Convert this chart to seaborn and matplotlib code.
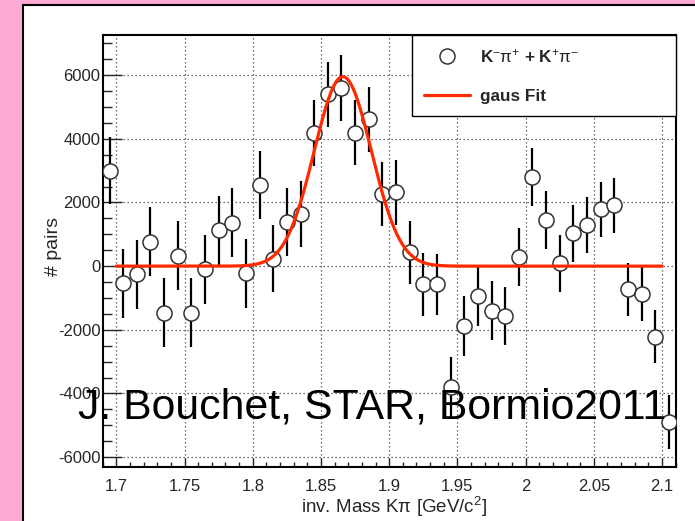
import numpy as np
import pandas as pd
import matplotlib
matplotlib.use("Agg")
import matplotlib.pyplot as plt
from matplotlib.lines import Line2D
from matplotlib.patches import Rectangle
from matplotlib.ticker import MultipleLocator
import seaborn as sns

# K pi invariant-mass bins (bin centres, GeV/c^2)
mass = [1.695, 1.705, 1.715, 1.725, 1.735, 1.745, 1.755, 1.765, 1.775, 1.785,
        1.795, 1.805, 1.815, 1.825, 1.835, 1.845, 1.855, 1.865, 1.875, 1.885,
        1.895, 1.905, 1.915, 1.925, 1.935, 1.945, 1.955, 1.965, 1.975, 1.985,
        1.995, 2.005, 2.015, 2.025, 2.035, 2.045, 2.055, 2.065, 2.075, 2.085,
        2.095, 2.105]
# background-subtracted pair counts
pairs = [3000, -545, -250, 765, -1460, 325, -1460, -105, 1125, 1370,
         -230, 2555, 230, 1390, 1635, 4170, 5400, 5590, 4190, 4610,
         2255, 2315, 430, -575, -575, -3790, -1875, -945, -1405, -1570,
         290, 2800, 1445, 85, 1025, 1290, 1780, 1915, -730, -860,
         -2220, -4890]
# statistical errors
pair_err = [1060, 1075, 1085, 1085, 1075, 1080, 1075, 1075, 1075, 1075,
            1075, 1075, 1050, 1060, 1040, 1040, 1020, 1030, 1020, 1010,
            1005, 1010, 985, 995, 965, 950, 940, 925, 930, 915,
            915, 900, 900, 900, 890, 875, 855, 860, 840, 850,
            830, 840]

# Gaussian fit parameters
fit_amp = 5950.0
fit_mean = 1.866
fit_sigma = 0.021
fit_range = (1.70, 2.10)

x_ticks = [1.7, 1.75, 1.8, 1.85, 1.9, 1.95, 2.0, 2.05, 2.1]
x_tick_labels = ["1.7", "1.75", "1.8", "1.85", "1.9", "1.95", "2", "2.05", "2.1"]
y_ticks = [-6000, -4000, -2000, 0, 2000, 4000, 6000]

sns.set_style("ticks")
plt.rcParams["font.family"] = ["Liberation Sans", "DejaVu Sans"]
plt.rcParams["axes.unicode_minus"] = False
plt.rcParams["mathtext.fontset"] = "custom"
plt.rcParams["mathtext.rm"] = "Liberation Sans"
plt.rcParams["mathtext.it"] = "Liberation Sans:italic"
plt.rcParams["mathtext.bf"] = "Liberation Sans:bold"

data = pd.DataFrame({"mass": mass, "pairs": pairs, "err": pair_err})
fit_x = np.linspace(fit_range[0], fit_range[1], 400)
fit = pd.DataFrame({
    "mass": fit_x,
    "pairs": fit_amp * np.exp(-0.5 * ((fit_x - fit_mean) / fit_sigma) ** 2),
})

fig = plt.figure(figsize=(6.95, 5.21), dpi=100, facecolor="#ffaad5")
# white canvas panel with a dark border
fig.add_artist(Rectangle((22.7 / 695, -0.02), 1.0, 1 - 5.3 / 521 + 0.02,
                         transform=fig.transFigure, facecolor="white",
                         edgecolor="black", linewidth=1.5, zorder=-1))

ax = fig.add_axes([102.7 / 695, 1 - 466.7 / 521, 573 / 695, 431.7 / 521])
ax.set_facecolor("white")

ax.errorbar(data["mass"], data["pairs"], yerr=data["err"], fmt="none",
            ecolor="black", elinewidth=1.6, capsize=0, zorder=2)
sns.scatterplot(data=data, x="mass", y="pairs", ax=ax, marker="o", s=118,
                facecolor="white", edgecolor="#333333", linewidth=1.1,
                zorder=3)
sns.lineplot(data=fit, x="mass", y="pairs", ax=ax, color="#ff2a00",
             linewidth=2.3, zorder=4)

ax.set_xlim(1.69, 2.11)
ax.set_ylim(-6300, 7260)
ax.set_xticks(x_ticks)
ax.set_xticklabels(x_tick_labels)
ax.set_yticks(y_ticks)
ax.xaxis.set_minor_locator(MultipleLocator(0.01))
ax.yaxis.set_minor_locator(MultipleLocator(500))
ax.tick_params(axis="x", which="major", direction="in", length=6.5, width=1,
               labelsize=12, pad=8.5, top=False)
ax.tick_params(axis="x", which="minor", direction="in", length=3.3, width=1,
               top=False)
ax.tick_params(axis="y", which="major", direction="in", length=13.5, width=1,
               labelsize=12, pad=1.5, right=False)
ax.tick_params(axis="y", which="minor", direction="in", length=6.5, width=1,
               right=False)
ax.grid(True, which="major", linestyle=(0, (1, 2.2)), color="0.25",
        linewidth=0.9)
for spine in ax.spines.values():
    spine.set_linewidth(1.5)
    spine.set_color("black")

ax.set_xlabel(r"inv. Mass Kπ [GeV/c$^{2}$]", fontsize=13.5)
ax.set_ylabel("# pairs", fontsize=14)
ax.xaxis.set_label_coords(0.508, -0.066)
ax.yaxis.set_label_coords(-0.071, 0.509)

handles = [
    Line2D([], [], marker="o", linestyle="none", markersize=10.8,
           markerfacecolor="white", markeredgecolor="#333333",
           markeredgewidth=1.1),
    Line2D([], [], color="#ff2a00", linewidth=2.3),
]
labels = [r"$\mathbf{K}^{-}\mathrm{\pi}^{+}\ \mathbf{+}\ \mathbf{K}^{+}\mathrm{\pi}^{-}$",
          "gaus Fit"]
leg = ax.legend(handles, labels, loc="upper left",
                bbox_to_anchor=(0.539, 0.8124, 0.461, 0.1876), mode="expand",
                prop={"weight": "bold", "size": 12.3}, frameon=True,
                fancybox=False, framealpha=1, edgecolor="black",
                borderpad=0.73, labelspacing=1.35, handlelength=2.7,
                handletextpad=0.6, borderaxespad=0)
leg.get_frame().set_linewidth(1.0)
leg.set_zorder(10)

fig.text(78 / 695, 1 - 418 / 521, "J. Bouchet, STAR, Bormio2011",
         fontsize=30.8, color="black", ha="left", va="baseline")

fig.savefig("out.png", dpi=100, facecolor=fig.get_facecolor())
